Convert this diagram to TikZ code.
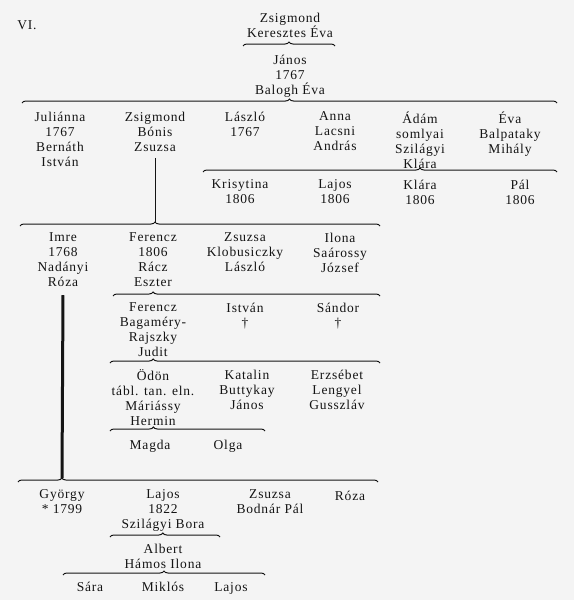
\documentclass[tikz,border=0pt]{standalone}
\usepackage{xcolor}
\usepackage{fontspec}
\setmainfont{Liberation Serif}[LetterSpace=6]
\usepackage{tikz}
\usetikzlibrary{positioning, calc, decorations.pathreplacing}
\definecolor{paper}{RGB}{244, 244, 244}
\definecolor{ink}{RGB}{20, 20, 20}

\begin{document}
\begin{tikzpicture}[
        x=1pt, y=-1pt,
        person/.style={anchor=north, align=center, inner sep=0pt, yshift=-2.5pt, text=ink, font=\fontsize{13.5}{15}\selectfont, execute at begin node={\strut}},
        brc/.style={draw=ink, line width=1pt, decorate, decoration={brace, amplitude=4pt, aspect=#1}},
        brc/.default=0.5,
        stem/.style={draw=ink, line width=0.8pt},
    ]

    \fill[paper] (0,0) rectangle (574,600);
    \useasboundingbox (0,0) rectangle (574,600);

    \node[person] (tabla) at (27,16) {VI.};

    % Oregek
    \node[person] (zsig) at (290,10) {Zsigmond\\Keresztes Éva};
    \coordinate (b1l) at (243,46);
    \coordinate (b1r) at (335,46);
    \node[person] (janos) at (290,52) {János\\1767\\Balogh Éva};

    % Janos gyermekei
    \coordinate (b2l) at (22,103);
    \coordinate (b2r) at (557,103);
    \node[person] (juli) at (60,109) {Juliánna\\1767\\Bernáth\\István};
    \node[person] (zsig2) at (155,109) {Zsigmond\\Bónis\\Zsuzsa};
    \node[person] (laszlo) at (245,109) {László\\1767};
    \node[person] (anna) at (335,109) {Anna\\Lacsni\\András};
    \node[person] (adam) at (420,109) {Ádám\\somlyai\\Szilágyi\\Klára};
    \node[person] (eva) at (510,109) {Éva\\Balpataky\\Mihály};

    % Adam gyermekei
    \coordinate (b3l) at (203,172);
    \coordinate (b3r) at (557,172);
    \node[person] (kriszt) at (240,177) {Krisytina\\1806};
    \node[person] (lajos1) at (335,177) {Lajos\\1806};
    \node[person] (klara) at (420,177) {Klára\\1806};
    \node[person] (pal) at (520,177) {Pál\\1806};

    % Zsigmond gyermekei
    \coordinate (b4l) at (20,226);
    \coordinate (b4r) at (380,226);
    \coordinate (b4t) at (155,222);
    \node[person] (imre) at (63,230) {Imre\\1768\\Nadányi\\Róza};
    \node[person] (fer1) at (153,230) {Ferencz\\1806\\Rácz\\Eszter};
    \node[person] (zsuzsa1) at (245,230) {Zsuzsa\\Klobusiczky\\László};
    \node[person] (ilona) at (340,230) {Ilona\\Saárossy\\József};

    % Ferencz agai
    \coordinate (b5l) at (113,296);
    \coordinate (b5r) at (380,296);
    \node[person] (fer2) at (153,300) {Ferencz\\Bagaméry-\\Rajszky\\Judit};
    \node[person] (istvan) at (245,300) {István\\†};
    \node[person] (sandor) at (338,300) {Sándor\\†};

    \coordinate (b6l) at (110,363);
    \coordinate (b6r) at (380,363);
    \node[person] (odon) at (153,367) {Ödön\\tábl. tan. eln.\\Máriássy\\Hermin};
    \node[person] (katalin) at (247,367) {Katalin\\Buttykay\\János};
    \node[person] (erzs) at (337,367) {Erzsébet\\Lengyel\\Gusszláv};

    \coordinate (b7l) at (110,431);
    \coordinate (b7r) at (265,431);
    \node[person] (magda) at (150,436) {Magda};
    \node[person] (olga) at (228,436) {Olga};

    % Imre agai
    \coordinate (b8l) at (18,482);
    \coordinate (b8r) at (378,482);
    \coordinate (b8t) at (62,478);
    \node[person] (gyorgy) at (62,487) {György\\* 1799};
    \node[person] (lajos2) at (163,487) {Lajos\\1822\\Szilágyi Bora};
    \node[person] (zsuzsa2) at (270,487) {Zsuzsa\\Bodnár Pál};
    \node[person] (roza) at (350,487) {Róza};

    \coordinate (b9l) at (110,537);
    \coordinate (b9r) at (220,537);
    \node[person] (albert) at (163,541) {Albert\\Hámos Ilona};

    \coordinate (b10l) at (63,575);
    \coordinate (b10r) at (265,575);
    \node[person] (sara) at (90,578) {Sára};
    \node[person] (miklos) at (163,578) {Miklós};
    \node[person] (lajos3) at (231,578) {Lajos};

    % Kapcsok
    \draw[brc] (b1l) -- (b1r);
    \draw[brc] (b2l) -- (b2r);
    \draw[brc=0.613] (b3l) -- (b3r);
    \draw[brc=0.375] (b4l) -- (b4r);
    \draw[brc=0.15] (b5l) -- (b5r);
    \draw[brc=0.16] (b6l) -- (b6r);
    \draw[brc=0.28] (b7l) -- (b7r);
    \draw[brc=0.122] (b8l) -- (b8r);
    \draw[brc=0.48] (b9l) -- (b9r);
    \draw[brc=0.5] (b10l) -- (b10r);

    % Vonalak
    \draw[stem] (zsig2.south) ++(0,2) -- (b4t);
    \draw[stem, line width=3pt] (imre.south) ++(0,4) -- (b8t);

    \end{tikzpicture}
\end{document}
